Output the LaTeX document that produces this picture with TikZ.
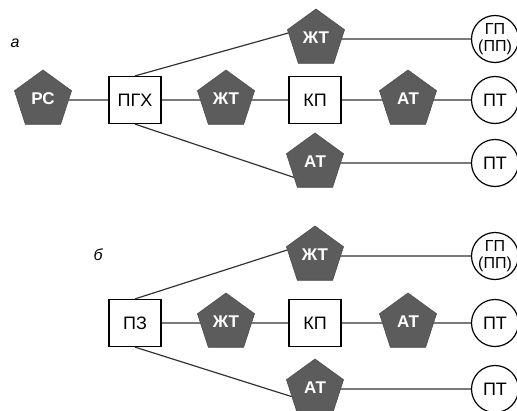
\documentclass[tikz,border=0pt]{standalone}
\usepackage{fontspec}
\setmainfont{Liberation Sans}
\usetikzlibrary{shapes.geometric,calc}
\definecolor{pgray}{RGB}{92,92,92}
\begin{document}
\begin{tikzpicture}[x=1pt,y=-1pt,
  pent/.style={regular polygon,regular polygon sides=5,minimum size=60pt,inner sep=0pt,fill=pgray,draw=black!70,line width=0.6pt,text=white,font=\bfseries\fontsize{17}{17}\selectfont},
  box/.style={rectangle,draw=black,line width=1.2pt,minimum width=52pt,minimum height=47pt,inner sep=0pt,fill=white,font=\fontsize{18}{18}\selectfont},
  term/.style={circle,draw=black,line width=1.2pt,minimum size=47pt,inner sep=0pt,fill=white,font=\fontsize{18}{18}\selectfont,align=center},
  term2/.style={term,font=\fontsize{16}{17}\selectfont},
  conn/.style={draw=black!80,line width=1.2pt},
  tag/.style={font=\itshape\fontsize{16}{16}\selectfont}]
\useasboundingbox (0,0) rectangle (517,410);
% ---------- a ----------
\node[tag] (la) at (15,43) {а};
\node[pent] (rs) at (43,100) {\raisebox{2pt}{РС}};
\node[box] (pgx) at (135,100) {ПГХ};
\node[pent] (ztm) at (226,100) {\raisebox{2pt}{ЖТ}};
\node[box] (kp) at (315,100) {КП};
\node[pent] (atm) at (408,100) {\raisebox{2pt}{АТ}};
\node[term] (ptm) at (495,100) {ПТ};
\node[pent] (ztt) at (316,39) {\raisebox{2pt}{ЖТ}};
\node[term2] (gp) at (495,39) {ГП\\(ПП)};
\node[pent] (atb) at (315,163) {\raisebox{2pt}{АТ}};
\node[term] (ptb) at (495,163) {ПТ};
\draw[conn] (rs.east) -- (pgx.west);
\draw[conn] (pgx.east) -- (ztm.west);
\draw[conn] (ztm.east) -- (kp.west);
\draw[conn] (kp.east) -- (atm.west);
\draw[conn] (atm.east) -- (ptm.west);
\draw[conn] (ztt.east) -- (gp.west);
\draw[conn] (atb.east) -- (ptb.west);
\draw[conn] (pgx.north) -- ($(ztt.corner 2)!0.1!(ztt.corner 3)$);
\draw[conn] (pgx.south) -- ($(atb.corner 2)!0.7!(atb.corner 3)$);
% ---------- b ----------
\node[tag] (lb) at (98,255) {б};
\node[box] (pz) at (135,323) {ПЗ};
\node[pent] (ztm2) at (226,323) {\raisebox{2pt}{ЖТ}};
\node[box] (kp2) at (315,323) {КП};
\node[pent] (atm2) at (408,323) {\raisebox{2pt}{АТ}};
\node[term] (ptm2) at (495,323) {ПТ};
\node[pent] (ztt2) at (315,256) {\raisebox{2pt}{ЖТ}};
\node[term2] (gp2) at (495,256) {ГП\\(ПП)};
\node[pent] (atb2) at (315,389) {\raisebox{2pt}{АТ}};
\node[term] (ptb2) at (495,389) {ПТ};
\draw[conn] (pz.east) -- (ztm2.west);
\draw[conn] (ztm2.east) -- (kp2.west);
\draw[conn] (kp2.east) -- (atm2.west);
\draw[conn] (atm2.east) -- (ptm2.west);
\draw[conn] (ztt2.east) -- (gp2.west);
\draw[conn] (atb2.east) -- (ptb2.west);
\draw[conn] (pz.north) -- ($(ztt2.corner 2)!0.1!(ztt2.corner 3)$);
\draw[conn] (pz.south) -- ($(atb2.corner 2)!0.5!(atb2.corner 3)$);
\end{tikzpicture}
\end{document}
